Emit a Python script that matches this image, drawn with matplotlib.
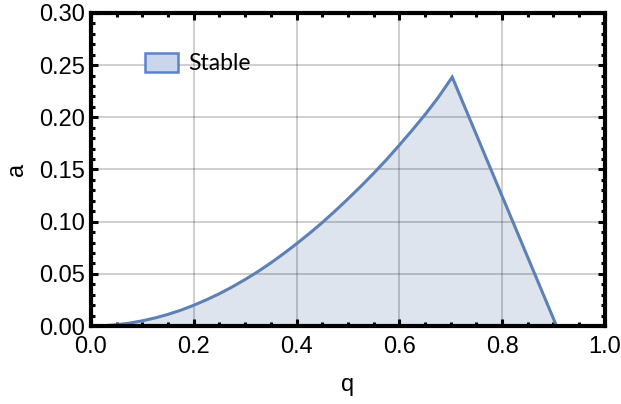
import matplotlib
matplotlib.use("Agg")
import matplotlib.pyplot as plt
from matplotlib.ticker import MultipleLocator, FormatStrFormatter

# stability boundary
q = [0.0, 0.025, 0.05, 0.075, 0.10, 0.125, 0.15, 0.175, 0.20, 0.225, 0.25, 0.275,
     0.30, 0.325, 0.35, 0.375, 0.40, 0.425, 0.45, 0.475, 0.50, 0.525, 0.55, 0.575,
     0.60, 0.625, 0.65, 0.675, 0.703, 0.906]
a = [0.0, 0.0003, 0.0012, 0.0028, 0.0050, 0.0078, 0.0112, 0.0152, 0.0199, 0.0252, 0.0310, 0.0375,
     0.0446, 0.0522, 0.0605, 0.0694, 0.0788, 0.0887, 0.0991, 0.1102, 0.1218, 0.1338, 0.1463, 0.1594,
     0.1733, 0.1876, 0.2025, 0.2185, 0.2385, 0.0]

line_color = "#5E81B5"
fill_color = "#DEE4EE"

plt.rcParams['font.family'] = ['Liberation Sans', 'DejaVu Sans']

fig = plt.figure(figsize=(6.21, 4.04), dpi=100)
ax = fig.add_axes([0.1465, 0.193, 0.8275, 0.775])

ax.fill_between(q, a, 0, color=fill_color, linewidth=0, zorder=1)
ax.plot(q, a, color=line_color, linewidth=2.2, zorder=3, solid_joinstyle="miter")

# legend patch
leg_patch = plt.Rectangle((0, 0), 1, 1, facecolor="#CBD6EB", edgecolor="#5A82D0", linewidth=1.8)
ax.legend([leg_patch], ["Stable"], loc="center left", bbox_to_anchor=(0.105, 0.838),
          frameon=False, borderpad=0, borderaxespad=0, handlelength=1.44, handleheight=0.92,
          handletextpad=0.45, prop={'family': ['Lato', 'DejaVu Sans'], 'size': 16.5})

ax.set_xlim(0, 1.0)
ax.set_ylim(0, 0.30)
ax.xaxis.set_major_locator(MultipleLocator(0.2))
ax.xaxis.set_minor_locator(MultipleLocator(0.05))
ax.yaxis.set_major_locator(MultipleLocator(0.05))
ax.yaxis.set_minor_locator(MultipleLocator(0.01))
ax.xaxis.set_major_formatter(FormatStrFormatter('%.1f'))
ax.yaxis.set_major_formatter(FormatStrFormatter('%.2f'))

ax.grid(True, which="major", color="black", alpha=0.22, linewidth=1.2, zorder=2)
ax.set_axisbelow(False)

for s in ax.spines.values():
    s.set_linewidth(3.0)
    s.set_zorder(5)

ax.tick_params(which="both", direction="in", top=True, right=True, width=2.2, labelsize=17)
ax.tick_params(axis="x", pad=7)
ax.tick_params(axis="y", pad=4)
ax.tick_params(which="major", length=5)
ax.tick_params(which="minor", length=3)

ax.set_xlabel("q", fontsize=17, labelpad=12)
ax.set_ylabel("a", fontsize=17, labelpad=8)

plt.savefig("out.png", dpi=100)
